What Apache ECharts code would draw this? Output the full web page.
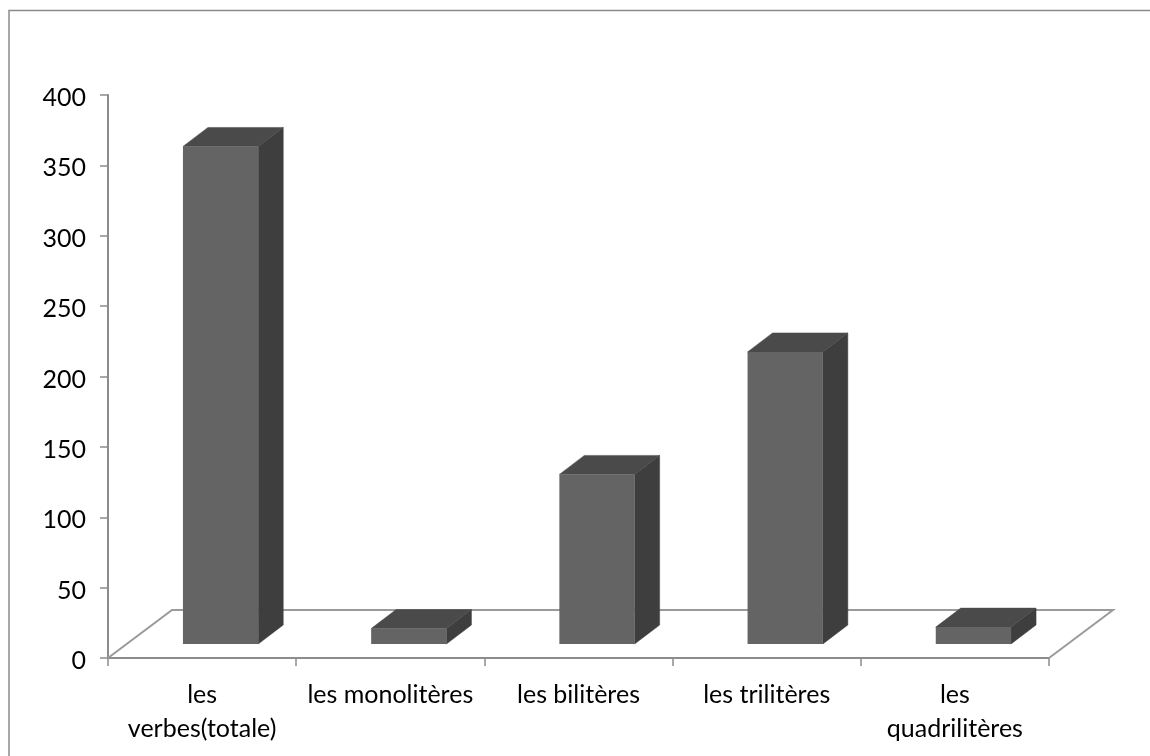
<!DOCTYPE html>
<html><head><meta charset="utf-8">
<style>html,body{margin:0;padding:0;background:#fff}#c{width:1150px;height:756px}</style>
<script src="https://cdn.jsdelivr.net/npm/echarts@6/dist/echarts.min.js"></script>
</head><body><div id="c"></div>
<script>
const categories = ['les\nverbes(totale)', 'les monolitères', 'les bilitères', 'les trilitères', 'les\nquadrilitères'];
const values = [353.5, 11, 120.5, 207.5, 12];
const depthX = 25, depthY = 19, floorX = 64, floorY = 48, lift = 14, shift = 18.5;
const chart = echarts.init(document.getElementById('c'), null, {renderer: 'canvas'});
function poly(points, fill) {
  return {type: 'polygon', shape: {points}, style: {fill, stroke: fill, lineWidth: 0.5}};
}
chart.setOption({
  animation: false,
  backgroundColor: '#fff',
  graphic: [{type: 'rect', shape: {x: 9, y: 10.5, width: 1160, height: 760}, style: {fill: 'none', stroke: '#8a8a8a', lineWidth: 1.5}, silent: true}],
  grid: {left: 108, right: 101, top: 95, bottom: 98},
  xAxis: {type: 'category', data: categories, boundaryGap: true,
    axisLine: {lineStyle: {color: '#8c8c8c', width: 2}},
    axisTick: {show: true, alignWithLabel: false, length: 8, lineStyle: {color: '#8c8c8c', width: 1.5}},
    axisLabel: {color: '#000', fontFamily: 'Lato', fontSize: 25, margin: 20, lineHeight: 34, interval: 0}},
  yAxis: {type: 'value', min: 0, max: 400, interval: 50,
    axisLine: {show: true, lineStyle: {color: '#8c8c8c', width: 2}},
    axisTick: {show: true, length: 8, lineStyle: {color: '#8c8c8c', width: 1.5}},
    splitLine: {show: false},
    axisLabel: {color: '#000', fontFamily: 'Lato', fontSize: 25, margin: 22, formatter: '{a|{value}}',
      rich: {a: {color: '#000', fontFamily: 'Lato', fontSize: 25, padding: [6, 0, 0, 0]}}}},
  series: [
    {type: 'custom', coordinateSystem: 'cartesian2d', silent: true, z: 1, clip: false,
     data: [[0]],
     renderItem(params, api) {
       const a = api.coord([0, 0]);
       const sz = api.size([1, 0]);
       const x0 = a[0] - sz[0] / 2, x1 = x0 + sz[0] * categories.length, y = a[1];
       const pts = [[x0, y], [x0 + floorX, y - floorY], [x1 + floorX, y - floorY], [x1, y]];
       return {type: 'polyline', shape: {points: pts}, style: {stroke: '#9a9a9a', lineWidth: 2, fill: 'none'}};
     }},
    {type: 'custom', coordinateSystem: 'cartesian2d', silent: true, z: 2, clip: false,
     data: values.map((v, i) => [i, v]),
     encode: {x: 0, y: 1},
     renderItem(params, api) {
       const cat = api.value(0), v = api.value(1);
       const c = api.coord([cat, 0]), t = api.coord([cat, v]);
       const w = api.size([1, 0])[0] * 0.4;
       const l = c[0] - w / 2 + shift, r = l + w, b = c[1] - lift, top = t[1] - lift;
       return {type: 'group', children: [
         poly([[r, top], [r + depthX, top - depthY], [r + depthX, b - depthY], [r, b]], '#3e3e3e'),
         poly([[l, top], [l + depthX, top - depthY], [r + depthX, top - depthY], [r, top]], '#4a4a4a'),
         {type: 'rect', shape: {x: l, y: top, width: w, height: b - top}, style: {fill: '#646464'}}
       ]};
     }}
  ]
});
</script></body></html>
